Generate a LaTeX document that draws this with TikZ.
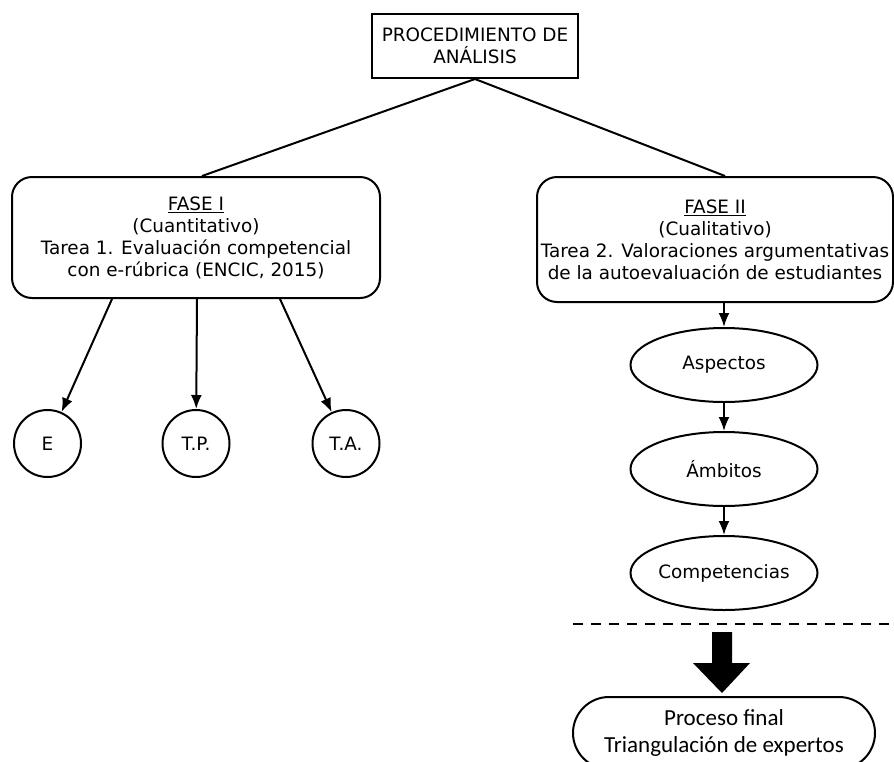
\documentclass[tikz,border=0pt]{standalone}
\usepackage{fontspec}
\setmainfont{DejaVu Sans}
\newfontfamily\finalfont{Carlito}
\usetikzlibrary{arrows.meta,shapes.geometric,shapes.misc}
\begin{document}
\begin{tikzpicture}[x=1pt,y=-1pt, line width=2pt,
  every node/.style={font=\fontsize{18.4}{22}\selectfont, align=center, inner sep=0pt},
  topbox/.style={draw, rectangle, minimum width=206pt, minimum height=64pt},
  phasebox/.style={draw, rectangle, rounded corners=20pt},
  leaf/.style={draw, circle, minimum size=67pt},
  oval/.style={draw, ellipse, minimum width=187pt, minimum height=74pt},
  arr/.style={-{Latex[length=14pt,width=11pt]}},
  finalbox/.style={draw, rounded rectangle, minimum width=302pt, minimum height=72pt,
    font=\finalfont\fontsize{23}{27.5}\selectfont}
]
\useasboundingbox (0,0) rectangle (894,761);
\fill[white] (0,0) rectangle (894,761);
\clip (0,0) rectangle (894,761);

\node[topbox] (top) at (475,46) {PROCEDIMIENTO DE\\ANÁLISIS};

\node[phasebox, minimum width=368pt, minimum height=121pt] (f1) at (196,237.5) {};
\node (f1t) at (f1.center) {\underline{FASE I}\\(Cuantitativo)\\Tarea 1. Evaluación competencial\\con e-rúbrica (ENCIC, 2015)};

\node[phasebox, minimum width=356pt, minimum height=125pt] (f2) at (715,239.5) {};
\node (f2t) at (f2.center) {\underline{FASE II}\\(Cualitativo)\\Tarea 2. Valoraciones argumentativas\\de la autoevaluación de estudiantes};

\draw (top.south) -- ([xshift=6pt]f1.north);
\draw (top.south) -- ([xshift=10pt]f2.north);

\node[leaf] (e) at (47.5,443.5) {E};
\node[leaf] (tp) at (196,443.5) {T.P.};
\node[leaf] (ta) at (346,443.5) {T.A.};

\draw[arr] ([xshift=-84pt]f1.south) -- (e);
\draw[arr] ([xshift=1pt]f1.south) -- (tp);
\draw[arr] ([xshift=84pt]f1.south) -- (ta);

\node[oval] (asp) at (724,365) {Aspectos};
\node[oval] (amb) at (724,469) {Ámbitos};
\node[oval] (comp) at (724,573) {Competencias};

\draw[arr] (asp.north |- f2.south) -- (asp);
\draw[arr] (asp) -- (amb);
\draw[arr] (amb) -- (comp);

\coordinate (dl) at (573,624);
\coordinate (dr) at (894,624);
\draw[dash pattern=on 10pt off 8pt] (dl) -- (dr);

\fill (712,632) -- (732,632) -- (732,663) -- (750,663) -- (722,693) -- (693,663) -- (712,663) -- cycle;

\node[finalbox] (fin) at (724,733) {Proceso final\\Triangulación de expertos};
\end{tikzpicture}
\end{document}
